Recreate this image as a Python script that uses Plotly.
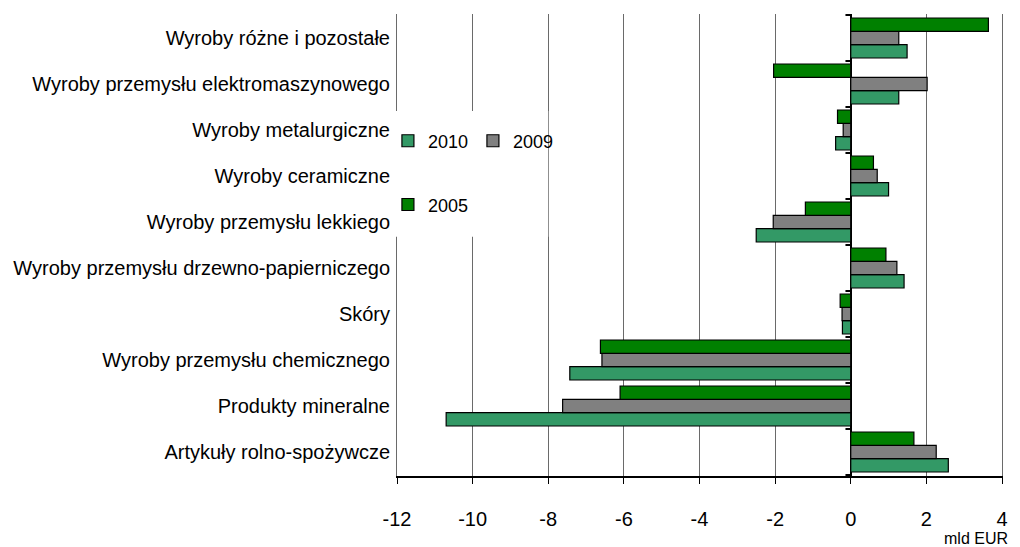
import plotly.graph_objects as go

# categories listed bottom -> top (plotly draws the first category at the bottom)
categories = [
    "Artykuły rolno-spożywcze",
    "Produkty mineralne",
    "Wyroby przemysłu chemicznego",
    "Skóry",
    "Wyroby przemysłu drzewno-papierniczego",
    "Wyroby przemysłu lekkiego",
    "Wyroby ceramiczne",
    "Wyroby metalurgiczne",
    "Wyroby przemysłu elektromaszynowego",
    "Wyroby różne i pozostałe",
]

values_2010 = [2.58, -10.7, -7.43, -0.22, 1.41, -2.5, 1.0, -0.4, 1.27, 1.49]
values_2009 = [2.26, -7.62, -6.58, -0.23, 1.22, -2.05, 0.7, -0.2, 2.02, 1.27]
values_2005 = [1.67, -6.1, -6.62, -0.28, 0.93, -1.2, 0.6, -0.35, -2.04, 3.64]

x_ticks = [-12, -10, -8, -6, -4, -2, 0, 2, 4]
x_tick_labels = ["-12", "-10", "-8", "-6", "-4", "-2", "0", "2", "4"]

FONT = "Liberation Sans, Arial, sans-serif"

series = [
    ("2010", values_2010, "#339966", "legend"),
    ("2009", values_2009, "#808080", "legend"),
    ("2005", values_2005, "#008000", "legend2"),
]

fig = go.Figure()
for name, vals, color, leg in series:
    fig.add_trace(
        go.Bar(
            y=categories,
            x=vals,
            name=name,
            orientation="h",
            marker={"color": color, "line": {"color": "#000000", "width": 1.2}},
            legend=leg,
        )
    )

# white patch behind the legend (hides gridlines there)
fig.add_shape(
    type="rect", xref="paper", yref="paper",
    x0=-0.004, x1=0.25, y0=0.518, y1=0.79,
    fillcolor="white", line={"width": 0}, layer="above",
)

# category boundary ticks on the zero line
for i in range(len(categories) + 1):
    fig.add_shape(
        type="line", xref="x", yref="y",
        x0=-0.14, x1=0, y0=i - 0.5, y1=i - 0.5,
        line={"color": "#000000", "width": 2}, layer="above",
    )

fig.add_annotation(
    text="mld EUR", xref="paper", yref="paper",
    x=1.013, y=-0.136, xanchor="right", yanchor="middle",
    showarrow=False, font={"size": 16, "color": "#000000", "family": FONT},
)

fig.update_xaxes(
    range=[-12, 4],
    tickvals=x_ticks,
    ticktext=x_tick_labels,
    ticks="outside",
    ticklen=6,
    tickcolor="#000000",
    ticklabelstandoff=18,
    showline=True,
    linecolor="#000000",
    linewidth=1.5,
    showgrid=True,
    gridcolor="#6a6a6a",
    gridwidth=1,
    zeroline=True,
    zerolinecolor="#000000",
    zerolinewidth=2,
    automargin=False,
    tickfont={"size": 20, "color": "#000000", "family": FONT},
)
fig.update_yaxes(
    showgrid=False,
    showline=True,
    mirror=True,
    linecolor="#6a6a6a",
    linewidth=1,
    ticks="",
    ticklabelstandoff=2,
    automargin=False,
    tickfont={"size": 20, "color": "#000000", "family": FONT},
)

legend_style = {
    "orientation": "h",
    "xanchor": "left", "yanchor": "middle",
    "bgcolor": "rgba(0,0,0,0)",
    "font": {"size": 18, "family": FONT, "color": "#000000"},
    "itemwidth": 30,
}

# margins offset by the page's 8px body margin
fig.update_layout(
    width=1020,
    height=547,
    margin={"l": 389, "r": 26, "t": 6, "b": 79},
    barmode="group",
    bargap=0.13,
    bargroupgap=0,
    plot_bgcolor="white",
    paper_bgcolor="white",
    font={"family": FONT, "color": "#000000"},
    legend={**legend_style, "x": -0.015, "y": 0.725, "entrywidth": 40},
    legend2={**legend_style, "x": -0.015, "y": 0.587},
)

fig.write_html("out.html")
